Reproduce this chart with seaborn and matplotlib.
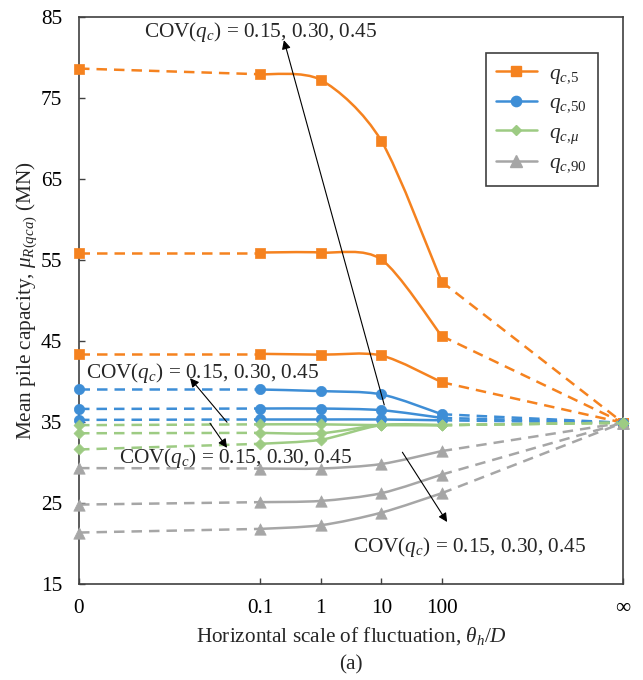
import numpy as np
import pandas as pd
import matplotlib
matplotlib.use("Agg")
import matplotlib.pyplot as plt
from matplotlib.path import Path
from matplotlib.patches import PathPatch
from matplotlib.lines import Line2D
import seaborn as sns

# ---------------- data ----------------
x_labels = ["0", "0.1", "1", "10", "100", "\u221e"]

q5_cov015 = [43.4, 43.4, 43.3, 43.2, 39.9, 34.9]
q5_cov030 = [55.9, 55.9, 55.9, 55.05, 45.6, 34.9]
q5_cov045 = [78.6, 77.9, 77.2, 69.7, 52.3, 34.9]

q50_cov015 = [35.25, 35.3, 35.3, 35.3, 35.2, 34.9]
q50_cov030 = [36.6, 36.65, 36.65, 36.45, 35.5, 34.9]
q50_cov045 = [39.0, 39.0, 38.8, 38.4, 35.95, 34.9]

qmu_cov015 = [34.6, 34.7, 34.7, 34.6, 34.6, 34.9]
qmu_cov030 = [33.6, 33.65, 33.6, 34.6, 34.6, 34.9]
qmu_cov045 = [31.6, 32.3, 32.8, 34.6, 34.6, 34.9]

q90_cov015 = [29.3, 29.25, 29.25, 29.8, 31.4, 34.9]
q90_cov030 = [24.8, 25.1, 25.25, 26.2, 28.5, 34.9]
q90_cov045 = [21.35, 21.8, 22.25, 23.8, 26.2, 34.9]

legend_labels = [r"$q_{c,\!5}$", r"$q_{c,\!50}$", r"$q_{c,\!\mu}$", r"$q_{c,\!90}$"]
cov_text = r"COV($q_c$) = 0.15, 0.30, 0.45"

# ---------------- style ----------------
sns.set_theme(style="white")
plt.rcParams["font.family"] = ["Liberation Serif", "DejaVu Serif"]
plt.rcParams["mathtext.fontset"] = "custom"
plt.rcParams["mathtext.rm"] = "Liberation Serif"
plt.rcParams["mathtext.it"] = "Liberation Serif:italic"
plt.rcParams["mathtext.bf"] = "Liberation Serif:bold"

FS = 15.3
colors = ["#F5821F", "#3E8ED6", "#9DCB83", "#A6A6A6"]
markers = ["s", "o", "D", "^"]
msizes = [7.2, 7.4, 5.6, 8.2]
groups = [
    [q5_cov015, q5_cov030, q5_cov045],
    [q50_cov015, q50_cov030, q50_cov045],
    [qmu_cov015, qmu_cov030, qmu_cov045],
    [q90_cov015, q90_cov030, q90_cov045],
]

x_pos = np.array([0, 3, 4, 5, 6, 9], dtype=float)

fig = plt.figure(figsize=(6.43, 6.80), dpi=100)
ax = fig.add_axes([79 / 643, (680 - 584) / 680, 544 / 643, (584 - 16.7) / 680])

LW = 1.8
DASH = (0, (4.2, 2.8))
TENSION = 1.0 / 7.0


def smooth_path(xs, ys):
    pts = np.column_stack([xs, ys])
    n = len(pts)
    verts = [pts[0]]
    codes = [Path.MOVETO]
    for i in range(n - 1):
        p0 = pts[i - 1] if i > 0 else pts[i]
        p1 = pts[i]
        p2 = pts[i + 1]
        p3 = pts[i + 2] if i + 2 < n else pts[i + 1]
        c1 = p1 + (p2 - p0) * TENSION
        c2 = p2 - (p3 - p1) * TENSION
        verts += [c1, c2, p2]
        codes += [Path.CURVE4] * 3
    return Path(verts, codes)


order = [0, 1, 3, 2]
for gi in order:
    c = colors[gi]
    for series in groups[gi]:
        y = np.array(series, dtype=float)
        df_l = pd.DataFrame({"x": x_pos[:2], "y": y[:2]})
        df_r = pd.DataFrame({"x": x_pos[4:], "y": y[4:]})
        sns.lineplot(data=df_l, x="x", y="y", ax=ax, color=c, lw=LW,
                     linestyle=DASH, sort=False, clip_on=False)
        sns.lineplot(data=df_r, x="x", y="y", ax=ax, color=c, lw=LW,
                     linestyle=DASH, sort=False, clip_on=False)
        patch = PathPatch(smooth_path(x_pos[1:5], y[1:5]), facecolor="none",
                          edgecolor=c, lw=LW, capstyle="round", joinstyle="round")
        ax.add_patch(patch)
        df_m = pd.DataFrame({"x": x_pos, "y": y})
        sns.scatterplot(data=df_m, x="x", y="y", ax=ax, color=c,
                        marker=markers[gi], s=msizes[gi] ** 2,
                        edgecolor=c, linewidth=0.5, clip_on=False, zorder=3)

ax.set_xlim(0, 9)
ax.set_ylim(15, 85)
ax.set_xticks(x_pos)
ax.set_xticklabels(x_labels)
ax.set_yticks(np.arange(15, 86, 10))
ax.tick_params(axis="both", direction="in", length=4, width=1.0,
               colors="#404040", labelcolor="black", labelsize=FS)
ax.tick_params(axis="y", pad=12, left=True)
ax.tick_params(axis="x", pad=11, bottom=True)
for sp in ax.spines.values():
    sp.set_visible(True)
    sp.set_color("#404040")
    sp.set_linewidth(1.2)

ax.set_xlabel(r"Horizontal scale of fluctuation, $\theta_h/D$", fontsize=FS, labelpad=5)
ax.set_ylabel(r"Mean pile capacity, $\mu_{R(qca)}$ (MN)", fontsize=FS, labelpad=1)
fig.text(351 / 643, 1 - 665 / 680, "(a)", ha="center", va="center", fontsize=FS)

# annotations
arrow_kw = dict(arrowstyle="-|>", color="black", lw=0.8, mutation_scale=13,
                shrinkA=0, shrinkB=0)
ax.annotate("", xy=(3.39, 82.1), xytext=(5.05, 37.1), arrowprops=arrow_kw)
ax.annotate("", xy=(1.837, 40.4), xytext=(2.449, 34.96), arrowprops=arrow_kw)
ax.annotate("", xy=(2.449, 31.8), xytext=(2.167, 34.84), arrowprops=arrow_kw)
ax.annotate("", xy=(6.09, 22.65), xytext=(5.35, 31.26), arrowprops=arrow_kw)

ax.text(1.075, 83.15, cov_text, fontsize=FS, ha="left", va="center")
ax.text(0.116, 41.0, cov_text, fontsize=FS, ha="left", va="center")
ax.text(0.662, 30.52, cov_text, fontsize=FS, ha="left", va="center")
ax.text(4.533, 19.53, cov_text, fontsize=FS, ha="left", va="center")

# legend
handles = [Line2D([0], [0], color=colors[i], lw=LW, marker=markers[i],
                  markersize=msizes[i], markeredgecolor=colors[i])
           for i in range(4)]
leg = ax.legend(handles, legend_labels, loc="upper right",
                bbox_to_anchor=(0.9535, 0.9355), borderaxespad=0,
                fontsize=FS, frameon=True, fancybox=False, framealpha=1,
                edgecolor="#404040", handlelength=1.9, labelspacing=0.36,
                borderpad=0.5, handletextpad=0.6)
leg.get_frame().set_linewidth(1.2)

fig.savefig("out.png", dpi=100)
